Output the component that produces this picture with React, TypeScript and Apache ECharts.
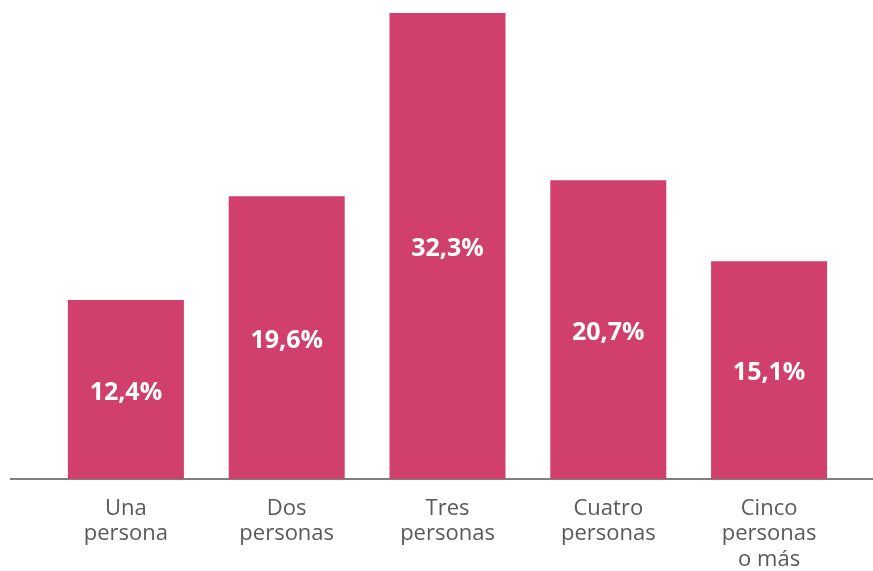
import React, { useEffect, useRef } from "react";
import * as echarts from "echarts";

const categories = ["Una\npersona", "Dos\npersonas", "Tres\npersonas", "Cuatro\npersonas", "Cinco\npersonas\no más"];
const values = [12.4, 19.6, 32.3, 20.7, 15.1];

export default function App() {
  const ref = useRef<HTMLDivElement>(null);
  useEffect(() => {
    const chart = echarts.init(ref.current!, null, { renderer: "svg" });
    chart.setOption({
      animation: false,
      grid: { left: 45.5, right: 23.5, top: 13, bottom: 92, containLabel: false },
      xAxis: {
        type: "category",
        data: categories,
        axisLine: { show: false },
        axisTick: { show: false },
        axisLabel: {
          color: "#595959",
          fontFamily: "Open Sans",
          fontSize: 22,
          lineHeight: 25.5,
          margin: 14,
          interval: 0,
        },
      },
      yAxis: { type: "value", min: 0, max: 32.3, show: false, splitLine: { show: false } },
      series: [
        {
          type: "bar",
          data: values,
          barWidth: 116,
          itemStyle: { color: "#D13F6D" },
          label: {
            show: true,
            position: "inside",
            color: "#ffffff",
            fontFamily: "Open Sans",
            fontWeight: "bold",
            fontSize: 25,
            formatter: (p: any) => p.value.toFixed(1).replace(".", ",") + "%",
          },
        },
      ],
      graphic: [
        {
          type: "line",
          shape: { x1: 10, y1: 479, x2: 873, y2: 479 },
          style: { stroke: "#555555", lineWidth: 1.5 },
        },
      ],
    });
    return () => chart.dispose();
  }, []);
  return <div ref={ref} style={{ width: 873, height: 571, position: "fixed", left: 0, top: 0 }} />;
}
